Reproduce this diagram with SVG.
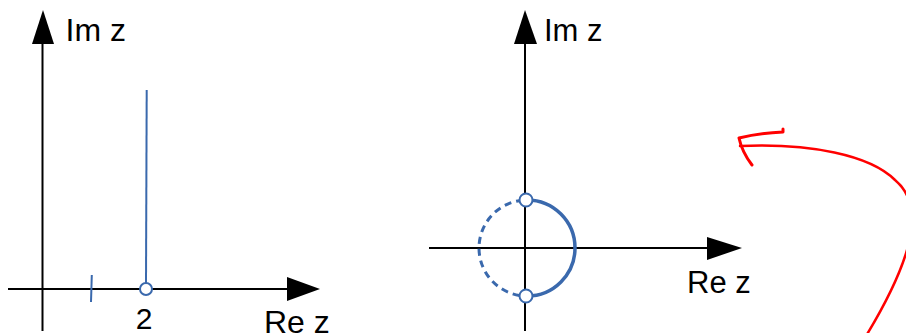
<svg xmlns="http://www.w3.org/2000/svg" width="906" height="333" viewBox="0 0 906 333">
<style>
.ax{stroke:#000;stroke-width:2;fill:none}
.ah{fill:#000}
.bl{stroke:#3a69ad;fill:none}
.pt{fill:#fff;stroke:#3a69ad;stroke-width:2}
.lb{font-family:"Liberation Sans",Arial,sans-serif;font-size:31px;fill:#000}
.red{stroke:#ff0000;fill:none;stroke-linecap:round;stroke-linejoin:round}
</style>
<rect width="906" height="333" fill="#fff"/>
<g id="left-plot">
<line class="ax" x1="42.5" y1="40" x2="42.5" y2="331"/>
<polygon class="ah" points="43,10 32,44 54,44"/>
<line class="ax" x1="8" y1="289" x2="290" y2="289"/>
<polygon class="ah" points="320,289 287,277 287,301"/>
<line class="bl" stroke-width="2" x1="91.8" y1="275" x2="91" y2="302"/>
<line class="bl" stroke-width="2" x1="146.7" y1="90" x2="146" y2="283"/>
<circle class="pt" cx="146" cy="289" r="6"/>
<text class="lb" x="65.5" y="41" style="font-size:32px">Im z</text>
<text class="lb" x="144.2" y="329" text-anchor="middle" style="font-size:30px">2</text>
<text class="lb" x="264" y="333" style="font-size:32px">Re z</text>
</g>
<g id="right-plot">
<line class="ax" x1="525" y1="40" x2="525" y2="331"/>
<polygon class="ah" points="525,10 514,44 537,44"/>
<line class="ax" x1="429" y1="248" x2="710" y2="248"/>
<polygon class="ah" points="742,248 707,237 707,260"/>
<path class="bl" stroke-width="3.5" d="M527,200 A48,48 0 0 1 527,296"/>
<path class="bl" stroke-width="3" stroke-dasharray="7,5" stroke-dashoffset="-4" d="M527,200 A48,48 0 0 0 527,296"/>
<circle class="pt" cx="526" cy="200" r="6.5"/>
<circle class="pt" cx="526" cy="296" r="6.5"/>
<text class="lb" x="544" y="41">Im z</text>
<text class="lb" x="687" y="293">Re z</text>
</g>
<g id="connectors">
<path class="red" stroke-width="2.5" d="M740,146 C810,143 870,155 895,180 C925,205 915,255 866,336"/>
<path class="red" stroke-width="3" d="M783,129 L783,132 Q760,133 739,138 Q742,152 752,165"/>
</g>
</svg>
